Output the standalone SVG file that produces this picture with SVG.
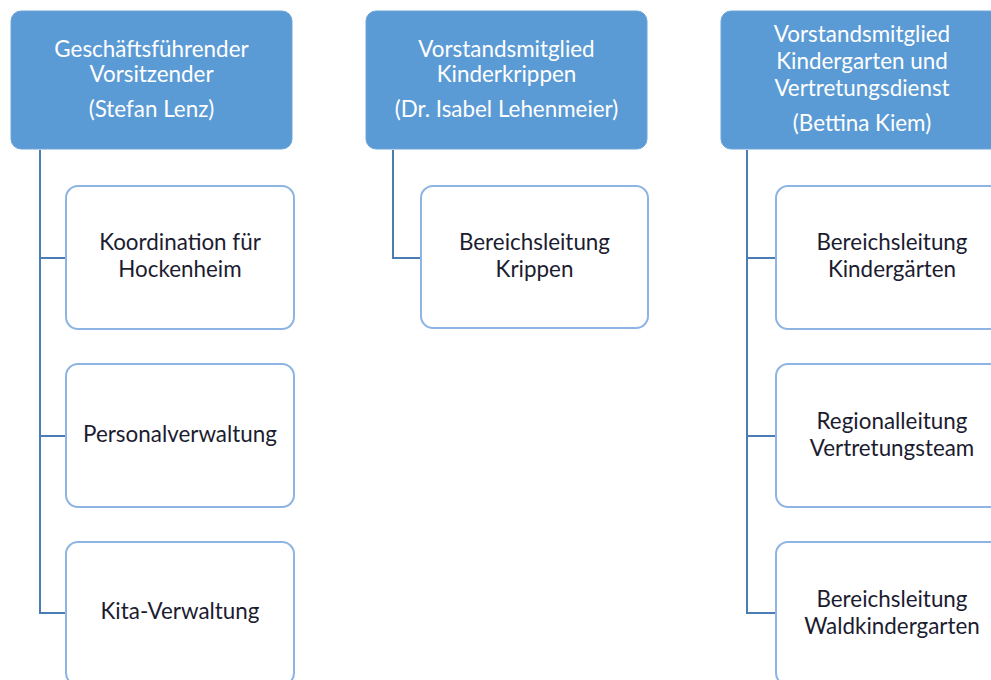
<svg xmlns="http://www.w3.org/2000/svg" width="991" height="680" viewBox="0 0 991 680">
<style>
.hdr{fill:#5b9bd5;stroke:#6fa5d8;stroke-width:1}
.box{fill:#fff;stroke:#8db4e2;stroke-width:2}
.ht{fill:#fff;font-family:Lato,"Open Sans",sans-serif;font-size:22.4px;text-anchor:middle}
.bt{fill:#1c1c30;font-family:Lato,"Open Sans",sans-serif;font-size:22.4px;text-anchor:middle}
.con{fill:none;stroke:#4a7db4;stroke-width:2}
</style>
<rect width="991" height="680" fill="#fff"/>
<g id="connectors">
<path class="con" d="M40 150V613H66M40 258H66M40 436H66"/>
<path class="con" d="M393 150V258H421"/>
<path class="con" d="M747 150V613H776M747 258H776M747 436H776"/>
</g>
<g id="h1">
<rect class="hdr" x="11" y="11" width="281" height="138" rx="10"/>
<text class="ht" x="151.5" y="57">Geschäftsführender</text>
<text class="ht" x="151.5" y="82">Vorsitzender</text>
<text class="ht" x="151.5" y="117">(Stefan Lenz)</text>
</g>
<g id="h2">
<rect class="hdr" x="366" y="11" width="281" height="138" rx="10"/>
<text class="ht" x="506.5" y="57">Vorstandsmitglied</text>
<text class="ht" x="506.5" y="82">Kinderkrippen</text>
<text class="ht" x="506.5" y="117">(Dr. Isabel Lehenmeier)</text>
</g>
<g id="h3">
<rect class="hdr" x="721" y="11" width="282" height="138" rx="10"/>
<text class="ht" x="862" y="42">Vorstandsmitglied</text>
<text class="ht" x="862" y="69">Kindergarten und</text>
<text class="ht" x="862" y="96">Vertretungsdienst</text>
<text class="ht" x="862" y="131">(Bettina Kiem)</text>
</g>
<g id="c1">
<rect class="box" x="66" y="186" width="228" height="143" rx="12"/>
<text class="bt" x="180" y="250">Koordination für</text>
<text class="bt" x="180" y="277">Hockenheim</text>
</g>
<g id="c2">
<rect class="box" x="66" y="364" width="228" height="143" rx="12"/>
<text class="bt" x="180" y="442">Personalverwaltung</text>
</g>
<g id="c3">
<rect class="box" x="66" y="542" width="228" height="143" rx="12"/>
<text class="bt" x="180" y="619">Kita-Verwaltung</text>
</g>
<g id="c4">
<rect class="box" x="421" y="186" width="227" height="142" rx="12"/>
<text class="bt" x="534.5" y="250">Bereichsleitung</text>
<text class="bt" x="534.5" y="277">Krippen</text>
</g>
<g id="c5">
<rect class="box" x="776" y="186" width="232" height="143" rx="12"/>
<text class="bt" x="892" y="250">Bereichsleitung</text>
<text class="bt" x="892" y="277">Kindergärten</text>
</g>
<g id="c6">
<rect class="box" x="776" y="364" width="232" height="143" rx="12"/>
<text class="bt" x="892" y="429">Regionalleitung</text>
<text class="bt" x="892" y="456">Vertretungsteam</text>
</g>
<g id="c7">
<rect class="box" x="776" y="542" width="232" height="143" rx="12"/>
<text class="bt" x="892" y="607">Bereichsleitung</text>
<text class="bt" x="892" y="634">Waldkindergarten</text>
</g>
</svg>
